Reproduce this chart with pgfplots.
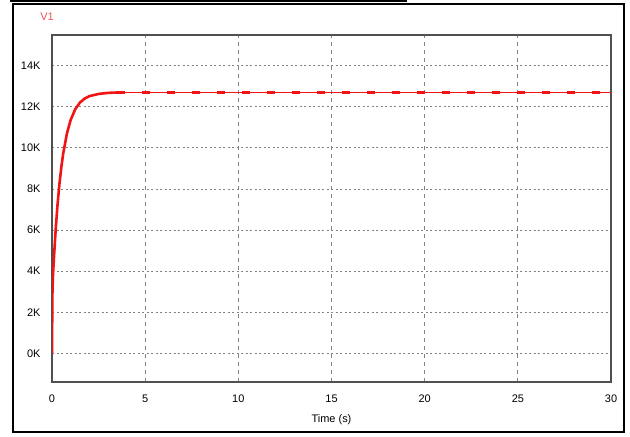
\documentclass[border=0pt]{standalone}
\usepackage{fontspec}
\setmainfont{Liberation Sans}
\usepackage{pgfplots}
\pgfplotsset{compat=1.18}
\definecolor{vred}{RGB}{240,20,20}
\definecolor{vlab}{RGB}{240,80,90}
\definecolor{gridgray}{RGB}{130,130,130}
\definecolor{axgray}{RGB}{80,80,80}
\begin{document}
\begin{tikzpicture}[x=1bp,y=1bp]
\useasboundingbox (0,0) rectangle (630,437);
\draw[line width=2bp,black] (13,5) rectangle (624,433);
\draw[line width=2.5bp,black] (10,436) -- (407,436);
\node[text=vlab,font=\fontsize{11}{13}\selectfont] at (47,420) {V1};
\begin{axis}[
  at={(52bp,55bp)}, anchor=south west,
  scale only axis, width=559bp, height=347bp,
  xmin=0, xmax=30, ymin=-1.4, ymax=15.5,
  xtick={0,5,10,15,20,25,30},
  ytick={0,2,4,6,8,10,12,14},
  yticklabels={0K,2K,4K,6K,8K,10K,12K,14K},
  major tick length=0pt,
  axis line style={axgray,line width=1.2bp},
  xmajorgrids, ymajorgrids,
  x grid style={gridgray,line width=0.9bp,dash pattern=on 4bp off 4bp},
  y grid style={gridgray,line width=0.9bp,dash pattern=on 2bp off 2.5bp},
  tick label style={font=\fontsize{11}{13}\selectfont},
  /pgf/number format/assume math mode=true,
  xticklabel style={yshift=-9bp},
  yticklabel style={xshift=-8bp},
  xlabel={Time (s)},
  xlabel style={font=\fontsize{11}{13}\selectfont, yshift=-5bp},
]
\addplot[vred, line width=2.6bp] coordinates {
 (0,0) (0.02,2.8) (0.05,3.74) (0.1,4.59) (0.2,6.06) (0.3,7.27) (0.4,8.25)
 (0.5,9.06) (0.6,9.72) (0.8,10.70) (1.0,11.36) (1.25,11.89) (1.5,12.21)
 (1.75,12.40) (2.0,12.52) (2.5,12.63) (3.0,12.68) (3.5,12.70)
};
\addplot[vred, line width=1.2bp] coordinates {
 (3.5,12.70) (30,12.70)
};
\addplot[vred, line width=2.6bp, dash pattern=on 8bp off 17bp] coordinates {
 (3.5,12.70) (30,12.70)
};
\end{axis}
\end{tikzpicture}
\end{document}
